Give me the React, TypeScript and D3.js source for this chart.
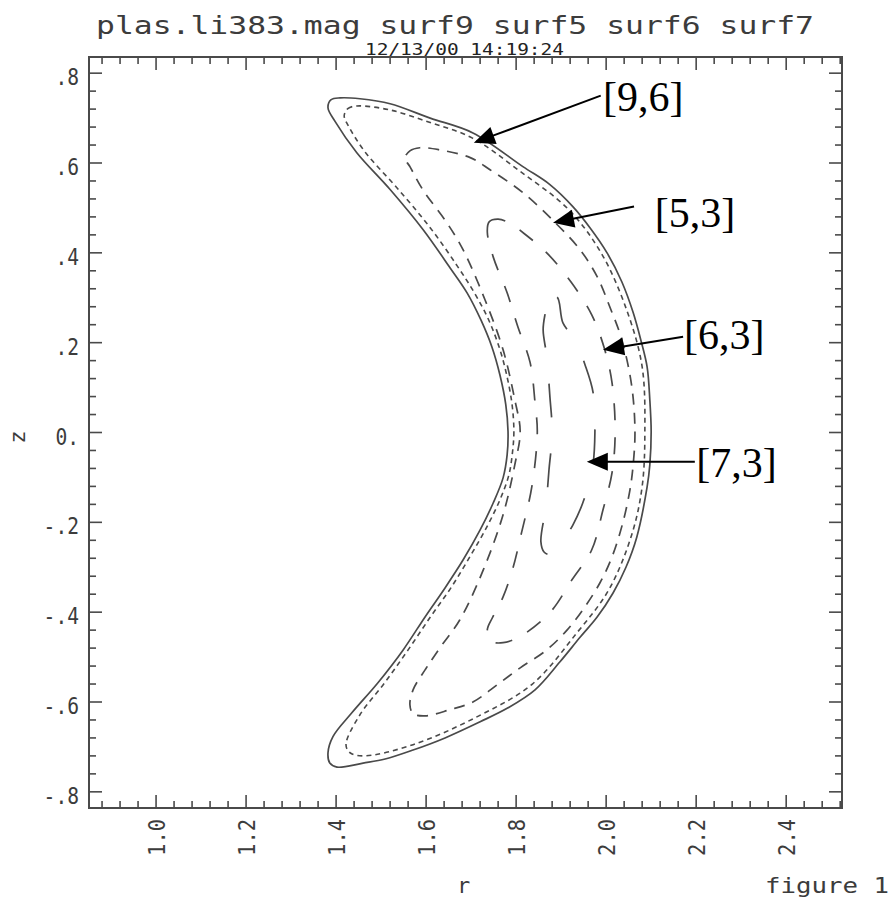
import React from 'react';
import * as d3 from 'd3';

const W = 895;
const H = 902;

const TITLE = 'plas.li383.mag surf9 surf5 surf6 surf7';
const DATE_STAMP = '12/13/00 14:19:24';
const X_LABEL = 'r';
const Y_LABEL = 'z';
const FIGURE_LABEL = 'figure 1';

const R_DOMAIN: [number, number] = [0.851, 2.524];
const Z_DOMAIN: [number, number] = [-0.836, 0.836];

const R_TICKS = [1.0, 1.2, 1.4, 1.6, 1.8, 2.0, 2.2, 2.4];
const R_TICK_LABELS = ['1.0', '1.2', '1.4', '1.6', '1.8', '2.0', '2.2', '2.4'];
const Z_TICKS = [0.8, 0.6, 0.4, 0.2, 0.0, -0.2, -0.4, -0.6, -0.8];
const Z_TICK_LABELS = ['.8', '.6', '.4', '.2', '0.', '-.2', '-.4', '-.6', '-.8'];

// magnetic boundary (solid)
const MAG: [number, number][] = [
  [1.382, 0.723], [1.389, 0.741], [1.409, 0.745], [1.453, 0.743], [1.520, 0.732],
  [1.609, 0.700], [1.704, 0.667], [1.815, 0.592], [1.875, 0.552], [1.926, 0.503],
  [1.964, 0.456], [2.002, 0.400], [2.035, 0.335], [2.060, 0.267], [2.077, 0.206],
  [2.091, 0.146], [2.097, 0.073], [2.100, 0.002], [2.097, -0.072], [2.091, -0.121],
  [2.068, -0.233], [2.044, -0.300], [2.015, -0.358], [1.980, -0.411], [1.942, -0.456],
  [1.897, -0.511], [1.842, -0.573], [1.782, -0.613], [1.720, -0.644], [1.642, -0.680],
  [1.571, -0.707], [1.509, -0.727], [1.460, -0.736], [1.402, -0.745], [1.386, -0.736],
  [1.382, -0.713], [1.393, -0.677], [1.435, -0.624], [1.493, -0.557], [1.549, -0.484],
  [1.598, -0.410], [1.642, -0.346], [1.682, -0.284], [1.720, -0.217], [1.749, -0.157],
  [1.771, -0.101], [1.780, -0.050], [1.782, 0.002], [1.777, 0.062], [1.764, 0.128],
  [1.746, 0.191], [1.722, 0.250], [1.691, 0.311], [1.653, 0.367], [1.593, 0.452],
  [1.520, 0.541], [1.446, 0.623], [1.398, 0.692],
];

const SURF9: [number, number][] = [
  [1.418, 0.705], [1.426, 0.721], [1.446, 0.727], [1.520, 0.718], [1.609, 0.690],
  [1.702, 0.656], [1.808, 0.582], [1.917, 0.496], [1.991, 0.396], [2.048, 0.266],
  [2.080, 0.146], [2.086, 0.002], [2.080, -0.120], [2.057, -0.227], [2.006, -0.350],
  [1.935, -0.446], [1.836, -0.560], [1.715, -0.632], [1.571, -0.695], [1.462, -0.720],
  [1.431, -0.713], [1.422, -0.695], [1.452, -0.630], [1.508, -0.557], [1.560, -0.484],
  [1.610, -0.410], [1.655, -0.346], [1.697, -0.277], [1.735, -0.210], [1.764, -0.150],
  [1.784, -0.094], [1.792, -0.043], [1.795, 0.002], [1.791, 0.062], [1.779, 0.128],
  [1.762, 0.191], [1.737, 0.255], [1.706, 0.313], [1.669, 0.371], [1.609, 0.456],
  [1.535, 0.545], [1.464, 0.625], [1.426, 0.685],
];

const SURF5: [number, number][] = [
  [1.553, 0.611], [1.564, 0.627], [1.586, 0.634], [1.631, 0.629], [1.698, 0.612],
  [1.742, 0.585], [1.815, 0.534], [1.886, 0.468], [1.942, 0.407], [1.980, 0.347],
  [2.008, 0.280], [2.035, 0.206], [2.057, 0.102], [2.064, 0.002], [2.060, -0.072],
  [2.053, -0.127], [2.037, -0.201], [2.013, -0.277], [1.986, -0.335], [1.948, -0.395],
  [1.913, -0.440], [1.868, -0.484], [1.809, -0.524], [1.760, -0.560], [1.704, -0.600],
  [1.653, -0.617], [1.598, -0.631], [1.571, -0.626], [1.564, -0.606], [1.571, -0.573],
  [1.598, -0.528], [1.631, -0.479], [1.675, -0.417], [1.727, -0.306], [1.771, -0.183],
  [1.797, -0.072], [1.809, 0.002], [1.797, 0.073], [1.771, 0.184], [1.731, 0.295],
  [1.682, 0.407], [1.646, 0.467], [1.593, 0.540], [1.564, 0.592],
];

const SURF6: [number, number][] = [
  [1.736, 0.446], [1.740, 0.469], [1.760, 0.475], [1.786, 0.466], [1.819, 0.442],
  [1.868, 0.400], [1.922, 0.335], [1.968, 0.262], [1.997, 0.184], [2.013, 0.111],
  [2.020, 0.000], [2.013, -0.090], [1.993, -0.172], [1.968, -0.261], [1.924, -0.328],
  [1.875, -0.401], [1.809, -0.454], [1.771, -0.468], [1.742, -0.464], [1.736, -0.439],
  [1.747, -0.413], [1.771, -0.366], [1.792, -0.305], [1.812, -0.223], [1.835, -0.120],
  [1.847, 0.000], [1.842, 0.066], [1.831, 0.156], [1.804, 0.235], [1.780, 0.311],
  [1.749, 0.391],
];

const SURF7: [number, number][] = [
  [1.873, 0.297], [1.891, 0.301], [1.904, 0.244], [1.931, 0.206], [1.953, 0.151],
  [1.971, 0.089], [1.975, 0.000], [1.969, -0.083], [1.948, -0.157], [1.926, -0.206],
  [1.908, -0.235], [1.891, -0.261], [1.875, -0.272], [1.862, -0.266], [1.855, -0.243],
  [1.866, -0.166], [1.873, -0.083], [1.880, 0.000], [1.875, 0.080], [1.868, 0.169],
  [1.860, 0.228], [1.864, 0.262],
];

const SURFACES = [
  { name: 'mag', pts: MAG, dash: 'none', width: 1.7 },
  { name: 'surf9', pts: SURF9, dash: '5,4', width: 1.6 },
  { name: 'surf5', pts: SURF5, dash: '11,8', width: 1.7 },
  { name: 'surf6', pts: SURF6, dash: '17,17', width: 1.7 },
  { name: 'surf7', pts: SURF7, dash: '34,36', width: 1.7 },
];

// annotations
const ANNOT_LABELS = ['[9,6]', '[5,3]', '[6,3]', '[7,3]'];
const ANNOT_FROM: [number, number][] = [[1.988, 0.750], [2.062, 0.503], [2.171, 0.213], [2.197, -0.065]];
const ANNOT_TIP: [number, number][] = [[1.706, 0.645], [1.882, 0.467], [1.993, 0.184], [1.957, -0.065]];
const ANNOT_POS: [number, number][] = [[1.993, 0.716], [2.108, 0.458], [2.173, 0.186], [2.200, -0.098]];

const MONO = '"DejaVu Sans Mono", "Liberation Mono", monospace';
const SERIF = '"Liberation Serif", "DejaVu Serif", serif';
const INK = '#3c3c3c';
const LINE = '#4a4a4a';

function Arrow({ x1, y1, x2, y2 }: { x1: number; y1: number; x2: number; y2: number }) {
  const ang = Math.atan2(y2 - y1, x2 - x1);
  const L = 21;
  const hw = 9;
  const bx = x2 - L * Math.cos(ang);
  const by = y2 - L * Math.sin(ang);
  const px = -Math.sin(ang) * hw;
  const py = Math.cos(ang) * hw;
  return (
    <g>
      <line x1={x1} y1={y1} x2={bx + Math.cos(ang) * 2} y2={by + Math.sin(ang) * 2} stroke="#000" strokeWidth={2} />
      <polygon points={`${x2},${y2} ${bx + px},${by + py} ${bx - px},${by - py}`} fill="#000" />
    </g>
  );
}

export default function App() {
  const left = 89, right = 842, top = 57, bottom = 808;
  const x = d3.scaleLinear().domain(R_DOMAIN).range([left, right]);
  const y = d3.scaleLinear().domain(Z_DOMAIN).range([bottom, top]);

  const line = d3
    .line<[number, number]>()
    .x((d) => x(d[0]))
    .y((d) => y(d[1]))
    .curve(d3.curveCatmullRomClosed.alpha(0.5));

  const rMinor = d3.range(0.88, 2.53, 0.04).filter((v) => v > R_DOMAIN[0] && v < R_DOMAIN[1]);
  const zMinor = d3.range(-0.8, 0.81, 0.04);
  const isMajor = (v: number) => Math.abs(v / 0.2 - Math.round(v / 0.2)) < 1e-6;

  const MAJ = 13;
  const MIN = 7;

  return (
    <svg
      width={W}
      height={H}
      viewBox={`0 0 ${W} ${H}`}
      style={{ position: 'absolute', left: 0, top: 0, background: '#fff' }}
    >
      <rect x={0} y={0} width={W} height={H} fill="#fff" />
      <text x={96} y={34} fontFamily={MONO} fontSize={25} fill={INK} textLength={718} lengthAdjust="spacingAndGlyphs">
        {TITLE}
      </text>
      <text x={365} y={55} fontFamily={MONO} fontSize={16} fill="#222" textLength={199} lengthAdjust="spacingAndGlyphs">
        {DATE_STAMP}
      </text>

      <rect x={left} y={top} width={right - left} height={bottom - top} fill="none" stroke={LINE} strokeWidth={2} />

      {rMinor.map((v, i) => {
        const len = isMajor(v) ? MAJ : MIN;
        const px = x(v);
        return (
          <g key={'rt' + i} stroke={LINE} strokeWidth={1.6}>
            <line x1={px} x2={px} y1={bottom} y2={bottom - len} />
            <line x1={px} x2={px} y1={top} y2={top + len} />
          </g>
        );
      })}
      {zMinor.map((v, i) => {
        const len = isMajor(v) ? MAJ : MIN;
        const py = y(v);
        return (
          <g key={'zt' + i} stroke={LINE} strokeWidth={1.6}>
            <line x1={left} x2={left + len} y1={py} y2={py} />
            <line x1={right} x2={right - len} y1={py} y2={py} />
          </g>
        );
      })}

      {Z_TICKS.map((v, i) => (
        <text
          key={'zl' + i}
          x={79}
          y={y(v) + 12}
          textAnchor="end"
          fontFamily={MONO}
          fontSize={23}
          fill={INK}
          textLength={Z_TICK_LABELS[i].length * 11.8}
          lengthAdjust="spacingAndGlyphs"
        >
          {Z_TICK_LABELS[i]}
        </text>
      ))}
      {R_TICKS.map((v, i) => (
        <text
          key={'rl' + i}
          transform={`translate(${x(v) + 9},${819}) rotate(-90)`}
          textAnchor="end"
          fontFamily={MONO}
          fontSize={23}
          fill={INK}
          textLength={R_TICK_LABELS[i].length * 12.3}
          lengthAdjust="spacingAndGlyphs"
        >
          {R_TICK_LABELS[i]}
        </text>
      ))}

      <text x={(left + right) / 2 - 2} y={893} textAnchor="middle" fontFamily={MONO} fontSize={22} fill={INK}>
        {X_LABEL}
      </text>
      <text transform={`translate(25,437) rotate(-90)`} textAnchor="middle" fontFamily={MONO} fontSize={22} fill={INK}>
        {Y_LABEL}
      </text>
      <text x={765} y={893} fontFamily={MONO} fontSize={22} fill={INK} textLength={124} lengthAdjust="spacingAndGlyphs">
        {FIGURE_LABEL}
      </text>

      {SURFACES.map((s) => (
        <path
          key={s.name}
          d={line(s.pts) || ''}
          fill="none"
          stroke={LINE}
          strokeWidth={s.width}
          strokeDasharray={s.dash === 'none' ? undefined : s.dash}
          strokeLinejoin="round"
        />
      ))}

      {ANNOT_LABELS.map((lab, i) => (
        <g key={'an' + i}>
          <Arrow x1={x(ANNOT_FROM[i][0])} y1={y(ANNOT_FROM[i][1])} x2={x(ANNOT_TIP[i][0])} y2={y(ANNOT_TIP[i][1])} />
          <text x={x(ANNOT_POS[i][0])} y={y(ANNOT_POS[i][1])} fontFamily={SERIF} fontSize={42} fill="#000">
            {lab}
          </text>
        </g>
      ))}
    </svg>
  );
}
